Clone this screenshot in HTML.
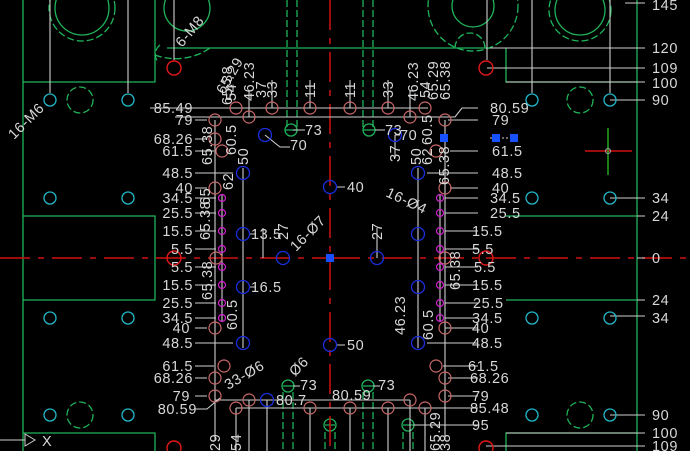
<!DOCTYPE html>
<html><head><meta charset="utf-8"><style>
html,body{margin:0;padding:0;background:#000;width:690px;height:451px;overflow:hidden}
svg{display:block}
text{font-family:"Liberation Sans",sans-serif;font-size:14.5px;letter-spacing:0.6px;fill:#d8d8d8}
</style></head><body>
<svg width="690" height="451" viewBox="0 0 690 451" xmlns="http://www.w3.org/2000/svg">
<g stroke="#1fb45a" stroke-width="1.3" fill="none">
<path d="M23 0V451M155 0V82H23M23 216H155V300H23M23 433H155V451"/>
<path d="M637 0V451M506 48V82H637M506 216H637V300H506M506 451V433H637M167 48H490"/>
<circle cx="82" cy="8" r="27"/>
<circle cx="187" cy="8" r="23"/>
<circle cx="473" cy="6" r="21"/>
<circle cx="580" cy="10" r="25"/>
</g>
<g stroke="#1fb45a" stroke-width="1.3" fill="none" stroke-dasharray="7,3">
<circle cx="82" cy="8" r="33"/>
<path d="M155 55 A60 60 0 0 0 210 48"/>
<path d="M160 45 A12 12 0 0 0 158 62"/>
<circle cx="473" cy="6" r="45"/>
<path d="M455 48 A14 14 0 0 1 485 48"/>
<circle cx="580" cy="10" r="31"/>
<circle cx="80" cy="100" r="13"/><circle cx="80" cy="415" r="13"/>
<circle cx="580" cy="100" r="13"/><circle cx="580" cy="415" r="13"/>
<path d="M287 0V128M297 0V128M363 0V128M373 0V128"/>
<path d="M283 392V451M293 392V451M363 392V451M373 392V451M325 432V451M335 432V451M403 432V451M413 432V451"/>
</g>
<g stroke="#1fb45a" stroke-width="1.3" fill="none">
<circle cx="291" cy="130" r="6"/><circle cx="369" cy="130" r="6"/>
<circle cx="288" cy="386" r="6"/><circle cx="368" cy="386" r="6"/>
<circle cx="330" cy="425" r="6"/><circle cx="408" cy="425" r="6"/>
<path d="M283 386H293M363 386H373M325 425H335M403 425H413M285 130H297M363 130H375"/>
</g>
<g stroke="#d01010" stroke-width="1.5" fill="none">
<path d="M0 258H330M330 258H690" stroke-dasharray="30,8,6,8"/>
<path d="M330 0V451" stroke-dasharray="30,8,6,8"/>
<path d="M585 151H632"/>
</g>
<path d="M608 128V175" stroke="#30d030" stroke-width="1.2"/>
<circle cx="608" cy="151" r="2.5" stroke="#aaa" fill="none"/>
<g stroke="#cfcfcf" stroke-width="1.1" fill="none">
<path d="M50 0V93M128 0V93M174 0V60"/>
<path d="M487 0V60M532 0V93M610 0V93M610 100H645M487 68H645M506 82H645M490 48H645M625 3H645"/>
<path d="M610 198H645M637 216H645M637 258H645M637 300H645M610 316H645M610 415H645M506 433H645M486 446H645"/>
<path d="M150 108H428M175 117H440M440 117H455L462 108H478M448 120H478"/>
<path d="M195 120H207M195 139H207M195 151H214M195 173H233M195 188H207M195 198H216M195 213H216M195 231H216M195 249H216M195 267H216M195 285H216M195 303H216M195 318H216M195 328H207M195 343H233M195 366H214M195 378H207M195 396H207M195 409H207L220 398"/>
<path d="M450 151H478M450 173H478M427 173H478M450 188H478M445 198H478M445 213H478M445 231H478M445 249H478M445 267H478M445 285H478M445 303H478M445 318H478M445 328H478M427 343H478M443 366H478M448 378H478M448 396H478M440 408H478M413 425H478"/>
<path d="M222 195V322M440 195V322M243 168V348M418 168V348M215 120V440M445 120V440M236 408V451M249 400V451M310 408V451M350 408V451M388 408V451M425 408V451M267 400V451M410 400V451M215 400H410M236 408H440"/>
<path d="M263 228V258M377 228V258M272 80V108M310 80V108M350 80V108M388 80V108M249 90V117M410 90V117"/>
<path d="M265 135L280 147H290M395 135H400M395 135V158"/>
<path d="M337 187H345M337 345H345M250 234H256M250 287H256M293 130H305M375 130H385M293 386H300M373 386H380M274 400H285"/>
<path d="M490 138H514" stroke-dasharray="2,2"/>
<path d="M0 440H25"/>
</g>
<path d="M25 434L35 440L25 446Z" stroke="#cfcfcf" fill="none"/>
<text x="42" y="446">X</text>
<g stroke="#20b8c8" stroke-width="1.3" fill="none">
<circle cx="50" cy="100" r="6"/><circle cx="128" cy="100" r="6"/><circle cx="50" cy="198" r="6"/><circle cx="128" cy="198" r="6"/>
<circle cx="50" cy="318" r="6"/><circle cx="128" cy="318" r="6"/><circle cx="50" cy="415" r="6"/><circle cx="128" cy="415" r="6"/>
<circle cx="532" cy="100" r="6"/><circle cx="610" cy="100" r="6"/><circle cx="532" cy="198" r="6"/><circle cx="610" cy="198" r="6"/>
<circle cx="532" cy="318" r="6"/><circle cx="610" cy="318" r="6"/><circle cx="532" cy="415" r="6"/><circle cx="610" cy="415" r="6"/>
</g>
<g stroke="#e01818" stroke-width="1.4" fill="none">
<circle cx="174" cy="68" r="7"/><circle cx="486" cy="68" r="7"/>
<circle cx="174" cy="258" r="7"/><circle cx="486" cy="258" r="7"/>
<circle cx="174" cy="448" r="7"/><circle cx="486" cy="448" r="7"/>
</g>
<g stroke="#c86868" stroke-width="1.2" fill="none">
<circle cx="236" cy="108" r="6"/><circle cx="272" cy="108" r="6"/><circle cx="310" cy="108" r="6"/><circle cx="350" cy="108" r="6"/><circle cx="388" cy="108" r="6"/><circle cx="425" cy="108" r="6"/>
<circle cx="249" cy="117" r="6"/><circle cx="410" cy="117" r="6"/>
<circle cx="215" cy="120" r="6"/><circle cx="215" cy="139" r="6"/><circle cx="222" cy="151" r="6"/><circle cx="215" cy="188" r="6"/>
<circle cx="216" cy="258" r="6"/><circle cx="215" cy="328" r="6"/><circle cx="224" cy="366" r="6"/><circle cx="215" cy="378" r="6"/><circle cx="215" cy="396" r="6"/>
<circle cx="445" cy="120" r="6"/><circle cx="436" cy="151" r="6"/><circle cx="445" cy="188" r="6"/><circle cx="445" cy="258" r="6"/>
<circle cx="445" cy="328" r="6"/><circle cx="436" cy="366" r="6"/><circle cx="445" cy="378" r="6"/><circle cx="445" cy="396" r="6"/>
<circle cx="236" cy="408" r="6"/><circle cx="310" cy="408" r="6"/><circle cx="350" cy="408" r="6"/><circle cx="388" cy="408" r="6"/><circle cx="425" cy="408" r="6"/>
<circle cx="249" cy="400" r="6"/><circle cx="410" cy="400" r="6"/>
</g>
<g stroke="#d020d0" stroke-width="1.2" fill="none">
<circle cx="222" cy="198" r="3.5"/><circle cx="222" cy="213" r="3.5"/><circle cx="222" cy="231" r="3.5"/><circle cx="222" cy="249" r="3.5"/><circle cx="222" cy="267" r="3.5"/><circle cx="222" cy="285" r="3.5"/><circle cx="222" cy="303" r="3.5"/><circle cx="222" cy="318" r="3.5"/>
<circle cx="440" cy="198" r="3.5"/><circle cx="440" cy="213" r="3.5"/><circle cx="440" cy="231" r="3.5"/><circle cx="440" cy="249" r="3.5"/><circle cx="440" cy="267" r="3.5"/><circle cx="440" cy="285" r="3.5"/><circle cx="440" cy="303" r="3.5"/><circle cx="440" cy="318" r="3.5"/>
</g>
<g stroke="#1a2ee0" stroke-width="1.3" fill="none">
<circle cx="243" cy="173" r="6.5"/><circle cx="243" cy="234" r="6.5"/><circle cx="243" cy="287" r="6.5"/><circle cx="243" cy="343" r="6.5"/>
<circle cx="418" cy="173" r="6.5"/><circle cx="418" cy="234" r="6.5"/><circle cx="418" cy="287" r="6.5"/><circle cx="418" cy="343" r="6.5"/>
<circle cx="265" cy="135" r="6.5"/><circle cx="395" cy="135" r="6.5"/>
<circle cx="283" cy="258" r="6.5"/><circle cx="377" cy="258" r="6.5"/>
<circle cx="330" cy="187" r="6.5"/><circle cx="330" cy="345" r="6.5"/><circle cx="267" cy="400" r="6.5"/>
</g>
<g fill="#1650ff"><rect x="326" y="254" width="8" height="8"/><rect x="440" y="134" width="8" height="8"/><rect x="492" y="134" width="8" height="8"/><rect x="510" y="134" width="8" height="8"/></g>
<g>
<text x="652" y="10">145</text><text x="652" y="53">120</text><text x="652" y="73">109</text><text x="652" y="88">100</text><text x="652" y="105">90</text>
<text x="652" y="203">34</text><text x="652" y="221">24</text><text x="652" y="263">0</text><text x="652" y="305">24</text><text x="652" y="323">34</text>
<text x="652" y="420">90</text><text x="652" y="438">100</text><text x="652" y="451">109</text>
</g>
<g text-anchor="end">
<text x="193" y="113">85.49</text><text x="193" y="125">79</text><text x="193" y="144">68.26</text><text x="193" y="156">61.5</text>
<text x="193" y="178">48.5</text><text x="193" y="193">40</text><text x="193" y="203">34.5</text><text x="193" y="218">25.5</text>
<text x="193" y="236">15.5</text><text x="193" y="254">5.5</text><text x="193" y="272">5.5</text><text x="193" y="290">15.5</text>
<text x="193" y="308">25.5</text><text x="193" y="323">34.5</text><text x="190" y="333">40</text><text x="193" y="348">48.5</text>
<text x="193" y="371">61.5</text><text x="193" y="383">68.26</text><text x="190" y="401">79</text><text x="197" y="414">80.59</text>
</g>
<g>
<text x="490" y="113">80.59</text><text x="492" y="125">79</text><text x="492" y="156">61.5</text><text x="492" y="178">48.5</text>
<text x="492" y="193">40</text><text x="490" y="203">34.5</text><text x="490" y="218">25.5</text><text x="472" y="236">15.5</text>
<text x="472" y="254">5.5</text><text x="474" y="272">5.5</text><text x="472" y="290">15.5</text><text x="473" y="308">25.5</text>
<text x="472" y="323">34.5</text><text x="472" y="333">40</text><text x="472" y="348">48.5</text><text x="468" y="371">61.5</text>
<text x="470" y="383">68.26</text><text x="472" y="401">79</text><text x="470" y="413">85.48</text><text x="472" y="430">95</text>
</g>
<g>
<text x="347" y="192">40</text><text x="347" y="350">50</text><text x="251" y="239">13.5</text><text x="251" y="292">16.5</text>
<text x="305" y="135">73</text><text x="385" y="135">73</text><text x="290" y="150">70</text><text x="400" y="140">70</text>
<text x="300" y="390">73</text><text x="378" y="390">73</text><text x="276" y="405">80.7</text><text x="332" y="400">80.59</text>
</g>
<g>
<text transform="translate(232,105) rotate(-90)">65.38</text>
<text transform="translate(224,95) rotate(-60)">65.29</text>
<text transform="translate(236,101) rotate(-90)">54</text>
<text transform="translate(254,101) rotate(-90)">46.23</text>
<text transform="translate(266,98) rotate(-90)">37</text>
<text transform="translate(277,98) rotate(-90)">33</text>
<text transform="translate(315,98) rotate(-90)">11</text>
<text transform="translate(355,98) rotate(-90)">11</text>
<text transform="translate(393,98) rotate(-90)">33</text>
<text transform="translate(418,101) rotate(-90)">46.23</text>
<text transform="translate(430,98) rotate(-90)">54</text>
<text transform="translate(438,100) rotate(-90)">65.29</text>
<text transform="translate(450,100) rotate(-90)">65.38</text>
<text transform="translate(212,165) rotate(-90)">65.38</text>
<text transform="translate(236,155) rotate(-90)">60.5</text>
<text transform="translate(210,205) rotate(-90)">65</text>
<text transform="translate(233,190) rotate(-90)">62</text>
<text transform="translate(248,165) rotate(-90)">50</text>
<text transform="translate(210,240) rotate(-90)">65.38</text>
<text transform="translate(212,300) rotate(-90)">65.38</text>
<text transform="translate(237,330) rotate(-90)">60.5</text>
<text transform="translate(288,240) rotate(-90)">27</text>
<text transform="translate(382,240) rotate(-90)">27</text>
<text transform="translate(400,162) rotate(-90)">37</text>
<text transform="translate(421,165) rotate(-90)">50</text>
<text transform="translate(432,165) rotate(-90)">62</text>
<text transform="translate(432,145) rotate(-90)">60.5</text>
<text transform="translate(449,185) rotate(-90)">65.38</text>
<text transform="translate(460,290) rotate(-90)">65.38</text>
<text transform="translate(433,340) rotate(-90)">60.5</text>
<text transform="translate(405,335) rotate(-90)">46.23</text>
<text transform="translate(220,451) rotate(-90)">29</text>
<text transform="translate(241,451) rotate(-90)">54</text>
<text transform="translate(440,451) rotate(-90)">65.29</text>
<text transform="translate(450,451) rotate(-90)">38</text>
<text transform="translate(182,48) rotate(-50)">6-M8</text>
<text transform="translate(14,140) rotate(-45)">16-M6</text>
<text transform="translate(296,252) rotate(-45)">16-Ø7</text>
<text transform="translate(385,196) rotate(25)">16-Ø4</text>
<text transform="translate(228,390) rotate(-30)">33-Ø6</text>
<text transform="translate(295,377) rotate(-45)">Ø6</text>
</g>
</svg>
</body></html>
